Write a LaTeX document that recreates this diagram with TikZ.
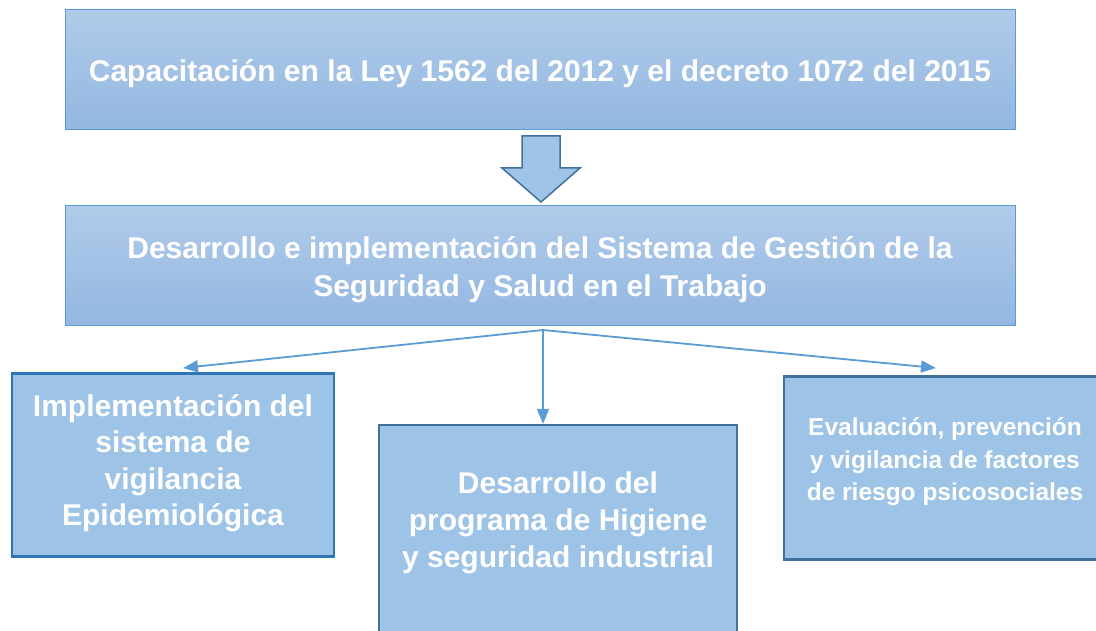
\documentclass[tikz,border=0pt]{standalone}
\usepackage{fontspec}
\setmainfont{Liberation Sans}
\usetikzlibrary{arrows.meta,calc}
\definecolor{topA}{HTML}{B0CBE9}
\definecolor{topB}{HTML}{93B7E1}
\definecolor{boxfill}{HTML}{9DC3E6}
\definecolor{lineblue}{HTML}{5B9BD5}
\definecolor{darkedge}{HTML}{41719C}
\definecolor{midedge}{HTML}{2E75B6}
\begin{document}
\begin{tikzpicture}[x=1pt,y=-1pt,
  banner/.style={draw=lineblue,line width=1pt,top color=topA,bottom color=topB,
    minimum width=950pt,minimum height=120pt,inner sep=0pt},
  leaf/.style={fill=boxfill,line width=2.2pt,inner sep=0pt},
  leaftext/.style={text=white,font=\bfseries\fontsize{30}{37}\selectfont,align=center,inner sep=0pt},
  conn/.style={draw=lineblue,line width=1.8pt,-{Triangle[length=15pt,width=12pt]}}]
\useasboundingbox (0,0) rectangle (1096,631);
\clip (0,0) rectangle (1096,631);
\node[banner] (top) at (540,70) {};
\node[leaftext,font=\bfseries\fontsize{30}{38}\selectfont] (toptext) at ($(top.center)+(0,4)$) {Capacitación en la Ley 1562 del 2012 y el decreto 1072 del 2015};
\node[banner] (sgsst) at (540,266) {};
\node[leaftext,font=\bfseries\fontsize{30}{38}\selectfont] (sgssttext) at ($(sgsst.center)+(0,4)$) {Desarrollo e implementación del Sistema de Gestión de la\\Seguridad y Salud en el Trabajo};
% block arrow
\draw[fill=boxfill,draw=darkedge,line width=1.5pt,line join=miter]
  (522,136) -- (560,136) -- (560,168) -- (580,168) -- (541,202) -- (502,168) -- (522,168) -- cycle;
\node[leaf,draw=midedge,minimum width=322pt,minimum height=183pt] (epi) at (173,465) {};
\node[leaftext,font=\bfseries\fontsize{30}{36.5}\selectfont] (epitext) at (173,463) {Implementación del\\sistema de\\vigilancia\\Epidemiológica};
\node[leaf,draw=darkedge,minimum width=358pt,minimum height=230pt] (hig) at (558,540) {};
\node[leaftext] (higtext) at (558,523) {Desarrollo del\\programa de Higiene\\y seguridad industrial};
\node[leaf,draw=darkedge,minimum width=322pt,minimum height=183pt] (psi) at (945,468) {};
\node[leaftext,font=\bfseries\fontsize{24.5}{32.5}\selectfont] (psitext) at (945,462) {Evaluación, prevención\\y vigilancia de factores\\de riesgo psicosociales};
\coordinate (src) at (543,330);
\coordinate (tl) at (183,368);
\coordinate (tr) at (936,368);
\draw[conn] (src) -- (tl);
\draw[conn] (src) -- (hig.north -| src);
\draw[conn] (src) -- (tr);
\end{tikzpicture}
\end{document}
